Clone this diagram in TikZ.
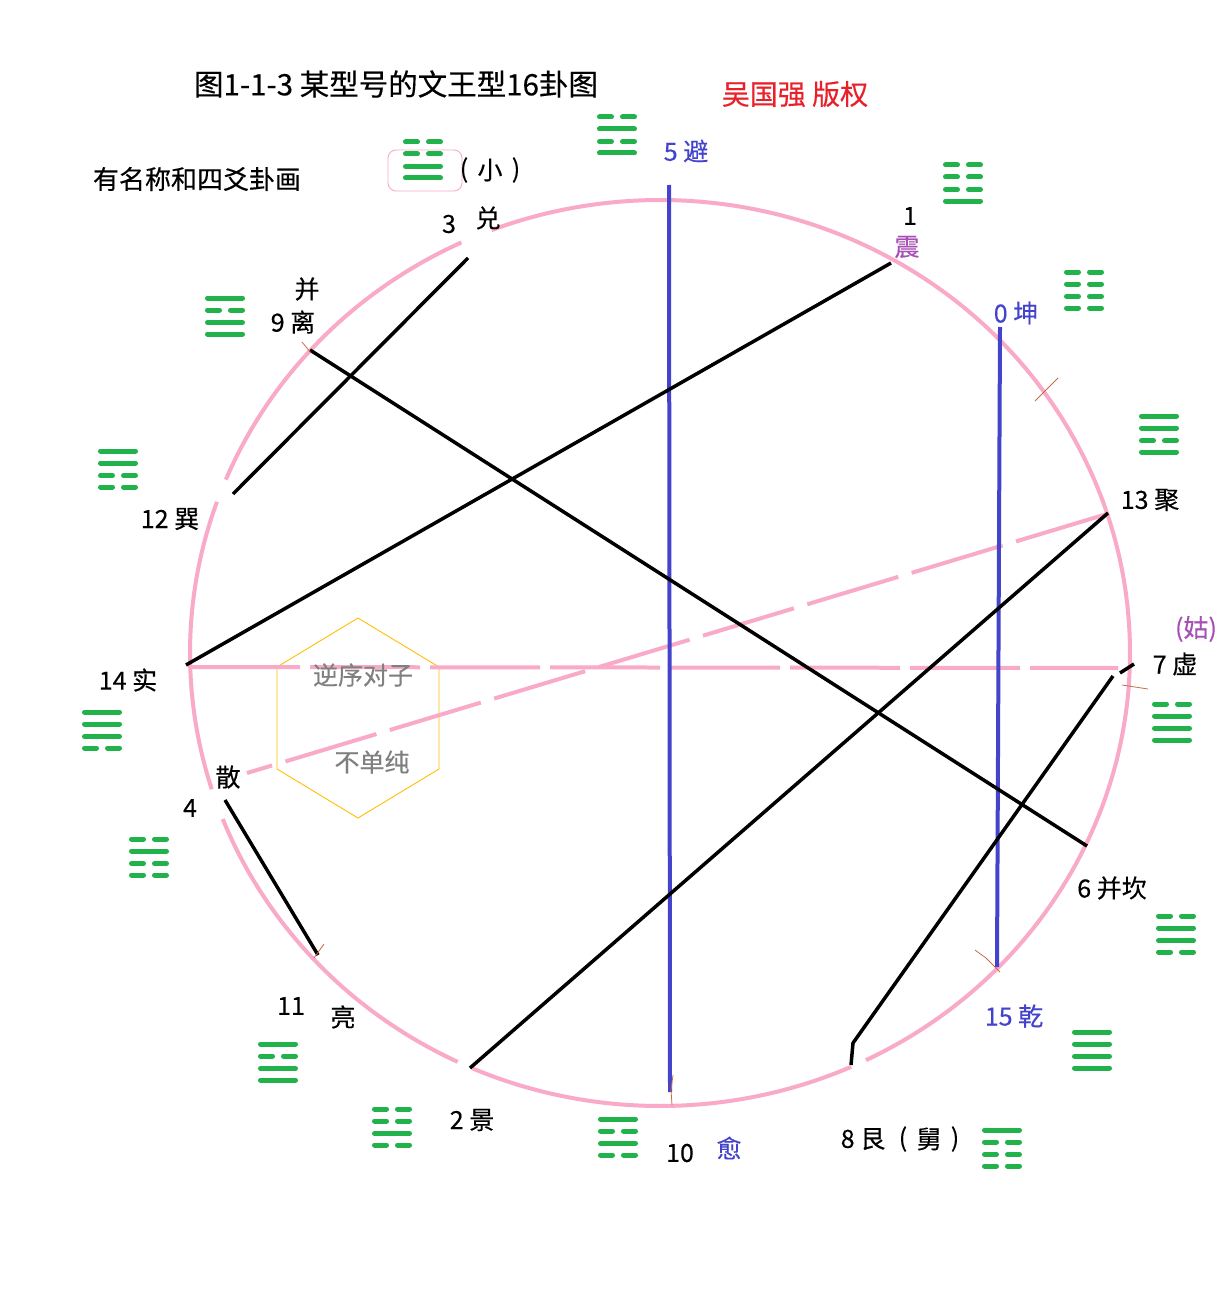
\documentclass[tikz,border=0pt]{standalone}
\usepackage{fontspec}
\setmainfont[FakeBold=0.3]{Noto Sans CJK SC}
\definecolor{guagreen}{RGB}{34,178,76}
\definecolor{ringpink}{RGB}{249,170,200}
\definecolor{lblue}{RGB}{67,67,204}
\definecolor{lpurple}{RGB}{165,80,180}
\definecolor{lred}{RGB}{232,32,42}
\definecolor{tickbrown}{RGB}{200,110,70}
\definecolor{hexyellow}{RGB}{255,192,0}
\newcommand{\wgLine}[3]{%
  \ifnum#3=1
    \draw[gualine] (#1+2.5,#2) -- (#1+37.5,#2);
  \else
    \draw[gualine] (#1+2.5,#2) -- (#1+14.5,#2);
    \draw[gualine] (#1+25.5,#2) -- (#1+37.5,#2);
  \fi}
\newcommand{\wgGua}[6]{%
  \wgLine{#1}{#2}{#3}%
  \wgLine{#1}{#2+12}{#4}%
  \wgLine{#1}{#2+24.5}{#5}%
  \wgLine{#1}{#2+36}{#6}}
\begin{document}
\begin{tikzpicture}[x=1pt,y=-1pt,
  gualine/.style={line width=5pt, line cap=round, draw=guagreen},
  ring/.style={line width=4pt, draw=ringpink},
  chord/.style={line width=3.5pt, draw=black},
  bluechord/.style={line width=4pt, draw=lblue},
  pinkdash/.style={line width=4pt, draw=ringpink, dash pattern=on 110pt off 10pt},
  tickmark/.style={line width=0.8pt, draw=tickbrown},
  lbl/.style={inner sep=0pt, font=\fontsize{25}{30}\selectfont},
  bluelbl/.style={lbl, text=lblue},
  purplelbl/.style={lbl, text=lpurple}]
\useasboundingbox[fill=white] (0,0) rectangle (1230,1300);

% ring with small gaps
\draw[ring] plot[domain=115:157.5, samples=60] ({660+470*cos(\x)},{653-453*sin(\x)});
\draw[ring] plot[domain=160.5:197.5, samples=60] ({660+470*cos(\x)},{653-453*sin(\x)});
\draw[ring] plot[domain=201.5:244.5, samples=60] ({660+470*cos(\x)},{653-453*sin(\x)});
\draw[ring] plot[domain=246.5:294, samples=60] ({660+470*cos(\x)},{653-453*sin(\x)});
\draw[ring] plot[domain=296:471, samples=200] ({660+470*cos(\x)},{653-453*sin(\x)});

% hexagon
\draw[hexyellow, line width=0.9pt] (358,618) -- (439,667) -- (439,769) -- (358,818) -- (277,769) -- (277,667) -- cycle;

% endpoints
\coordinate (a3) at (468,258);
\coordinate (a12) at (233,494);
\coordinate (a1) at (891,263);
\coordinate (a14) at (186,665);
\coordinate (a9) at (310,350);
\coordinate (a6) at (1087,846);
\coordinate (a13) at (1108,513);
\coordinate (a2) at (470,1068);
\coordinate (a7a) at (1134,664);
\coordinate (a7b) at (1120,673);
\coordinate (a7c) at (1113,676);
\coordinate (a8a) at (853,1043);
\coordinate (a8b) at (851,1065);
\coordinate (a4) at (225,800);
\coordinate (a11) at (318,955);
\coordinate (a5) at (669,185);
\coordinate (a10) at (670,1092);
\coordinate (a0) at (1000,327);
\coordinate (a15) at (997,967);
\coordinate (d14) at (190,667);
\coordinate (d7) at (1118,668);
\coordinate (d13) at (1107,514);
\coordinate (d4) at (247,773);

% pink dashed chords
\draw[pinkdash] (d14) -- (d7);
\draw[pinkdash, dash pattern=on 95pt off 14pt] (d13) -- (d4);

% blue chords
\draw[bluechord] (a5) -- (a10);
\draw[bluechord] (a0) -- (a15);

% black chords
\draw[chord] (a3) -- (a12);
\draw[chord] (a1) -- (a14);
\draw[chord] (a9) -- (a6);
\draw[chord] (a13) -- (a2);
\draw[chord] (a7a) -- (a7b);
\draw[chord] (a7c) -- (a8a) -- (a8b);
\draw[chord] (a4) -- (a11);

% small brown ticks
\draw[tickmark] (302,342) -- (311,353);
\draw[tickmark] (1035,401) -- (1058,378);
\draw[tickmark] (1122,685) -- (1148,689);
\draw[tickmark] (975,950) -- (986,958) -- (1000,972);
\draw[tickmark] (314,958) -- (324,944);
\draw[tickmark] (673,1075) -- (671,1090) -- (672,1105);

% pink box around the (small) gua
\draw[ringpink, line width=0.9pt, rounded corners=8pt] (388,150) rectangle (462,191);

% gua symbols
\wgGua{403}{142}{0}{0}{1}{1}
\wgGua{597}{117}{0}{1}{0}{1}
\wgGua{943}{165}{0}{0}{0}{1}
\wgGua{1064}{272}{0}{0}{0}{0}
\wgGua{205}{298}{1}{0}{1}{1}
\wgGua{98}{451}{1}{1}{0}{0}
\wgGua{1139}{416}{1}{1}{0}{1}
\wgGua{82}{712}{1}{1}{1}{0}
\wgGua{129}{839}{0}{1}{0}{0}
\wgGua{1152}{704}{0}{1}{1}{1}
\wgGua{1156}{916}{0}{1}{1}{0}
\wgGua{258}{1044}{1}{0}{1}{1}
\wgGua{372}{1109}{0}{0}{1}{0}
\wgGua{598}{1119}{1}{0}{1}{0}
\wgGua{1072}{1032}{1}{1}{1}{1}
\wgGua{982}{1130}{1}{0}{0}{0}

% texts
\node[lbl, font=\fontsize{29.5}{34}\selectfont] (title) at (396,84) {图1-1-3 某型号的文王型16卦图};
\node[lbl, font=\fontsize{28}{32}\selectfont, text=lred] (copy) at (795,94) {吴国强 版权};
\node[lbl, font=\fontsize{26}{30}\selectfont] (sub) at (197,179) {有名称和四爻卦画};
\node[lbl] (xiaoL) at (464,170) {(};
\node[lbl] (xiao) at (490,170) {小};
\node[lbl] (xiaoR) at (516,170) {)};
\node[lbl] (n3) at (449,224) {3};
\node[lbl] (dui) at (488,218) {兑};
\node[bluelbl] (n5) at (686,151) {5 避};
\node[lbl] (n1) at (910,216) {1};
\node[purplelbl] (zhen) at (907,247) {震};
\node[bluelbl] (n0) at (1016,313) {0 坤};
\node[lbl] (bing) at (307,289) {并};
\node[lbl] (n9) at (293,322) {9 离};
\node[lbl] (n12) at (170,519) {12 巽};
\node[lbl] (n13) at (1150,500) {13 聚};
\node[purplelbl] (gu) at (1196,629) {(姑)};
\node[lbl] (n7) at (1175,664) {7 虚};
\node[lbl] (n14) at (128,680) {14 实};
\node[lbl] (san) at (228,777) {散};
\node[lbl] (n4) at (190,808) {4};
\node[lbl] (n6) at (1112,888) {6 并坎};
\node[bluelbl] (n15) at (1014,1016) {15 乾};
\node[lbl] (n11) at (291,1006) {11};
\node[lbl] (liang) at (343,1017) {亮};
\node[lbl] (n2) at (472,1120) {2 景};
\node[lbl] (n10) at (680,1153) {10};
\node[bluelbl] (yu) at (729,1148) {愈};
\node[lbl] (n8) at (863,1139) {8 艮};
\node[lbl] (jiuL) at (903,1139) {(};
\node[lbl] (jiu) at (929,1139) {舅};
\node[lbl] (jiuR) at (955,1139) {)};
\node[lbl, text=gray] (nixu) at (363,675) {逆序对子};
\node[lbl, text=gray] (bdc) at (372,762) {不单纯};
\end{tikzpicture}
\end{document}
